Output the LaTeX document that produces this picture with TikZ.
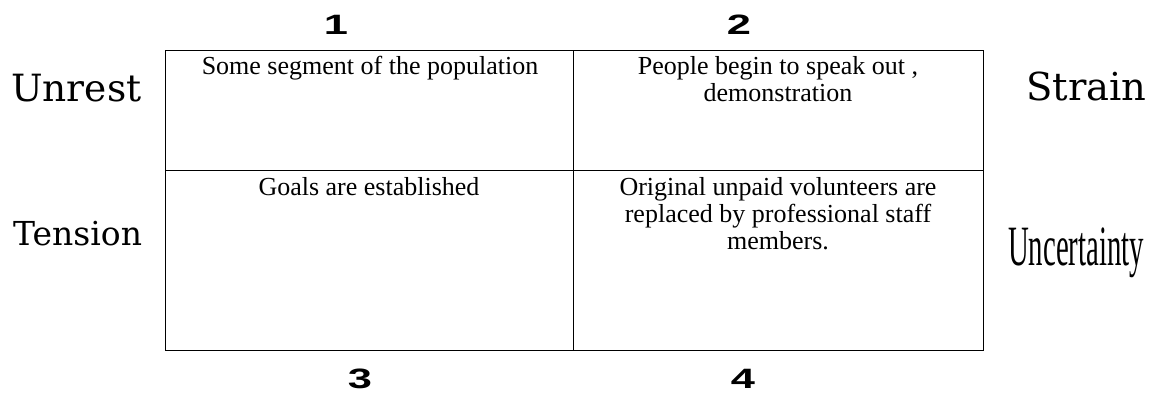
\documentclass[tikz,border=0pt]{standalone}
\usepackage{fontspec}
\setmainfont{Liberation Serif}
\newfontfamily\labfont{DejaVu Serif}
\newfontfamily\numfont{Liberation Sans}
\newcommand{\widenum}[1]{\scalebox{1.55}[1]{#1}}
\begin{document}
\begin{tikzpicture}[x=1pt,y=-1pt,
  cell/.style={font=\fontsize{26}{27}\selectfont, align=center, inner sep=0pt, anchor=base},
  side/.style={inner sep=0pt, anchor=base west},
  num/.style={font=\numfont\bfseries\fontsize{28}{28}\selectfont, inner sep=0pt, anchor=base},
  grid/.style={line width=1.3pt, line cap=rect}]
\useasboundingbox (0,0) rectangle (1153,392);
% table frame
\coordinate (tl) at (165.3,50.7);
\coordinate (br) at (983.3,350.3);
\coordinate (tm) at (573.3,50.7);
\coordinate (bm) at (573.3,350.3);
\coordinate (ml) at (165.3,170.3);
\coordinate (mr) at (983.3,170.3);
\draw[grid] (tl) rectangle (br);
\draw[grid] (tm) -- (bm);
\draw[grid] (ml) -- (mr);
% cell texts (anchor base = baseline of the last line)
\node[cell] (c1) at (370,74) {Some segment of the population};
\node[cell] (c2) at (778,101) {People begin to speak out ,\\demonstration};
\node[cell] (c3) at (369,195) {Goals are established};
\node[cell] (c4) at (778,249) {Original unpaid volunteers are\\replaced by professional staff\\members.};
% side labels
\node[side, font=\labfont\fontsize{37.5}{37.5}\selectfont] (unrest) at (11,101) {Unrest};
\node[side, font=\labfont\fontsize{33}{33}\selectfont] (tension) at (13,245) {Tension};
\node[side, font=\labfont\fontsize{38.5}{38.5}\selectfont] (strain) at (1026,100) {Strain};
\node[side, font=\fontsize{57}{57}\selectfont] (uncert) at (1008,265) {\scalebox{0.505}[1]{Uncertainty}};
% numbers
\node[num] (n1) at (336,34) {\widenum{1}};
\node[num] (n2) at (739,34) {\widenum{2}};
\node[num] (n3) at (360,388) {\widenum{3}};
\node[num] (n4) at (743,388) {\widenum{4}};
\end{tikzpicture}
\end{document}
